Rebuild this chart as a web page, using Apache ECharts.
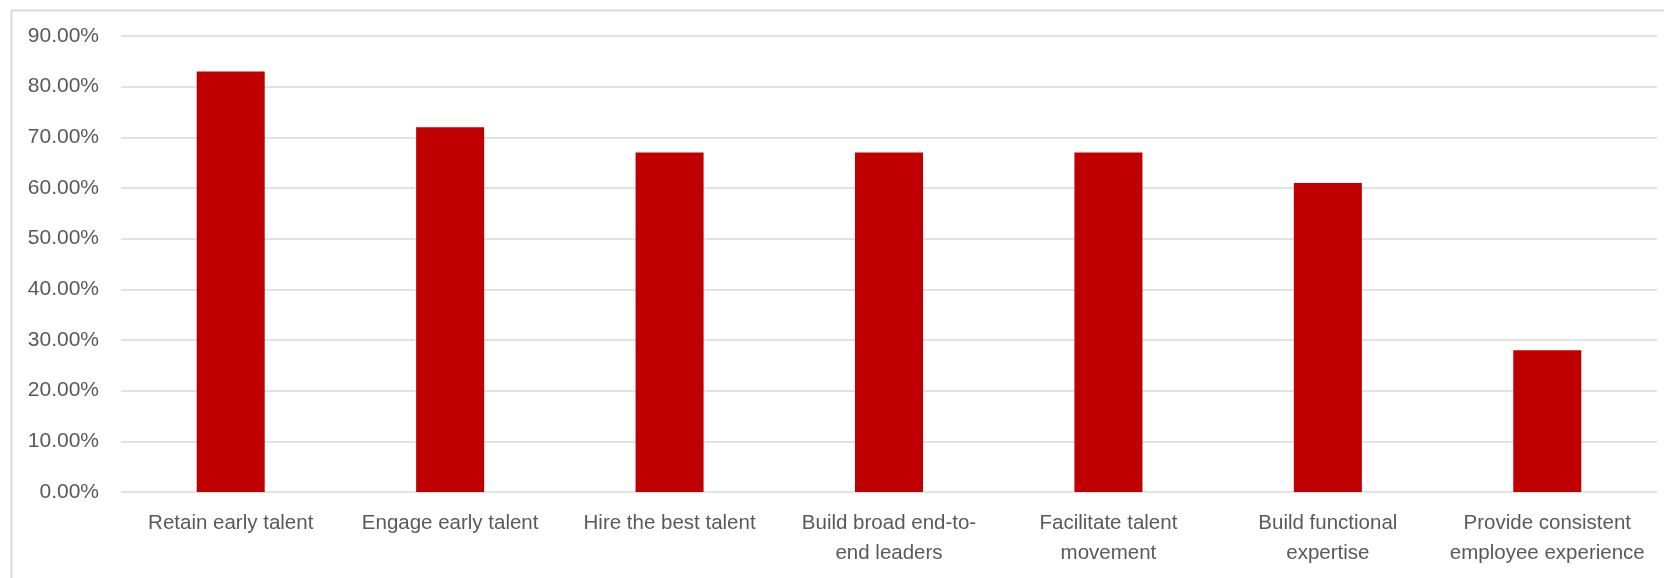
<!DOCTYPE html>
<html>
<head>
<meta charset="utf-8">
<script src="https://cdn.jsdelivr.net/npm/echarts@6/dist/echarts.min.js"></script>
<style>
  html, body { margin: 0; padding: 0; background: #ffffff; }
  #chart { width: 1664px; height: 578px; }
</style>
</head>
<body>
<div id="chart"></div>
<script>
// Talent priorities: share of respondents (%)
const categories = [
  'Retain early talent',
  'Engage early talent',
  'Hire the best talent',
  'Build broad end-to-\nend leaders',
  'Facilitate talent\nmovement',
  'Build functional\nexpertise',
  'Provide consistent\nemployee experience'
];
const shares = [83, 72, 67, 67, 67, 61, 28];
const yTicks = { min: 0, max: 90, interval: 10 };

const textColor = '#595959';
const gridColor = '#d9d9d9';
const fontFamily = '"Liberation Sans", Arial, sans-serif';

const chart = echarts.init(document.getElementById('chart'), null, { renderer: 'canvas' });
chart.setOption({
  animation: false,
  backgroundColor: '#ffffff',
  graphic: [{
    type: 'rect',
    left: 9, top: 8,
    shape: { width: 2000, height: 2000 },
    style: { fill: 'none', stroke: gridColor, lineWidth: 2 },
    silent: true
  }],
  grid: { left: 121, right: 7, top: 36, bottom: 86, containLabel: false },
  xAxis: {
    type: 'category',
    data: categories,
    axisLine: { show: false },
    axisTick: { show: false },
    axisLabel: {
      interval: 0,
      color: textColor,
      fontFamily: fontFamily,
      fontSize: 20.5,
      lineHeight: 30,
      margin: 16
    }
  },
  yAxis: {
    type: 'value',
    min: yTicks.min,
    max: yTicks.max,
    interval: yTicks.interval,
    axisLine: { show: false },
    axisTick: { show: false },
    splitLine: { lineStyle: { color: gridColor, width: 1.5 } },
    axisLabel: {
      color: textColor,
      fontFamily: fontFamily,
      fontSize: 21,
      margin: 22,
      formatter: v => v.toFixed(2) + '%'
    }
  },
  series: [{
    type: 'bar',
    data: shares,
    barWidth: '31%',
    itemStyle: { color: '#c00000' }
  }]
});
</script>
</body>
</html>
